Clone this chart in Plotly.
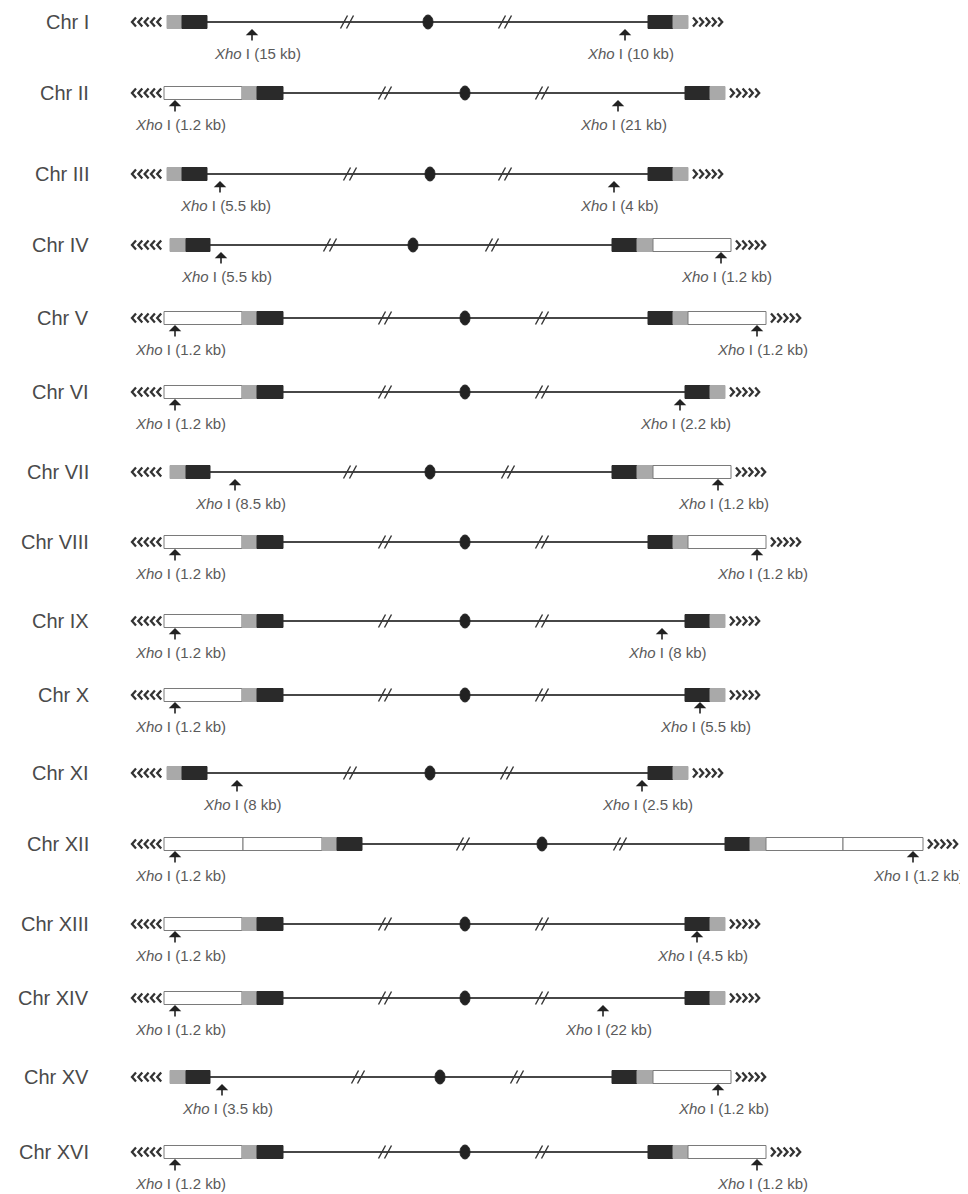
import plotly.graph_objects as go

# ---------------- data ----------------
chrom_names = ["Chr I", "Chr II", "Chr III", "Chr IV", "Chr V", "Chr VI", "Chr VII", "Chr VIII",
               "Chr IX", "Chr X", "Chr XI", "Chr XII", "Chr XIII", "Chr XIV", "Chr XV", "Chr XVI"]
row_y = [22, 93, 174, 245, 318, 392, 472, 542, 621, 695, 773, 844, 924, 998, 1077, 1152]

# block layouts (kind, start, end): W = white element, G = gray element, D = dark element
layout_A_left = [("G", 167, 182), ("D", 182, 207)]
layout_A_right = [("D", 648, 673), ("G", 673, 688)]
layout_B_left = [("W", 164, 242), ("G", 242, 257), ("D", 257, 283)]
layout_B_right = [("D", 685, 710), ("G", 710, 725)]
layout_C_left = [("G", 170, 186), ("D", 186, 210)]
layout_C_right = [("D", 612, 637), ("G", 637, 653), ("W", 653, 731)]
layout_D_right = [("D", 648, 673), ("G", 673, 688), ("W", 688, 766)]
layout_XII_left = [("W", 164, 243), ("W", 243, 322), ("G", 322, 337), ("D", 337, 362)]
layout_XII_right = [("D", 725, 750), ("G", 750, 766), ("W", 766, 843), ("W", 843, 923)]

left_blocks = [layout_A_left, layout_B_left, layout_A_left, layout_C_left, layout_B_left,
               layout_B_left, layout_C_left, layout_B_left, layout_B_left, layout_B_left,
               layout_A_left, layout_XII_left, layout_B_left, layout_B_left, layout_C_left,
               layout_B_left]
right_blocks = [layout_A_right, layout_B_right, layout_A_right, layout_C_right, layout_D_right,
                layout_B_right, layout_C_right, layout_D_right, layout_B_right, layout_B_right,
                layout_A_right, layout_XII_right, layout_B_right, layout_B_right, layout_C_right,
                layout_D_right]

break_x = [[347, 505], [385, 542], [350, 505], [330, 492], [385, 542], [385, 542], [350, 508],
           [385, 542], [385, 542], [385, 542], [350, 507], [463, 620], [385, 542], [385, 542],
           [358, 517], [385, 542]]
centromere_x = [428, 465, 430, 413, 465, 465, 430, 465, 465, 465, 430, 542, 465, 465, 440, 465]
left_telomere_start = 132

xho_x = [[252, 625], [175, 618], [220, 614], [221, 721], [175, 757], [175, 680], [235, 718],
         [175, 757], [175, 662], [175, 700], [237, 642], [175, 913], [175, 697], [175, 603],
         [222, 718], [175, 757]]
xho_kb = [["15", "10"], ["1.2", "21"], ["5.5", "4"], ["5.5", "1.2"], ["1.2", "1.2"],
          ["1.2", "2.2"], ["8.5", "1.2"], ["1.2", "1.2"], ["1.2", "8"], ["1.2", "5.5"],
          ["8", "2.5"], ["1.2", "1.2"], ["1.2", "4.5"], ["1.2", "22"], ["3.5", "1.2"],
          ["1.2", "1.2"]]

# ---------------- styles ----------------
FILL = {"W": "#ffffff", "G": "#a9a9a9", "D": "#2a2a2a"}
EDGE = {"W": "#7a7a7a", "G": "#a9a9a9", "D": "#2a2a2a"}
LINE_COL = "#474747"
BOX_H = 6.5
FONT = "Liberation Sans, Arial, sans-serif"
PAGE_OFFSET = 8  # default body margin of the html page

shapes = []
annotations = []

def chevrons(x_start, y, n, direction):
    for i in range(n):
        x = x_start + i * 6.3
        if direction == "left":
            path = f"M {x+4},{y-4.5} L {x},{y} L {x+4},{y+4.5}"
        else:
            path = f"M {x},{y-4.5} L {x+4},{y} L {x},{y+4.5}"
        shapes.append(dict(type="path", path=path, xref="x", yref="y",
                           line=dict(color="#333333", width=2.3)))

for i, name in enumerate(chrom_names):
    y = row_y[i]
    lb = left_blocks[i]
    rb = right_blocks[i]
    line_start = lb[-1][2]
    line_end = rb[0][1]
    shapes.append(dict(type="line", xref="x", yref="y", x0=line_start, x1=line_end, y0=y, y1=y,
                       line=dict(color=LINE_COL, width=1.8)))
    for kind, x0, x1 in lb + rb:
        shapes.append(dict(type="rect", xref="x", yref="y", x0=x0, x1=x1, y0=y - BOX_H, y1=y + BOX_H,
                           fillcolor=FILL[kind], line=dict(color=EDGE[kind], width=1)))
    chevrons(left_telomere_start, y, 5, "left")
    chevrons(rb[-1][2] + 5, y, 5, "right")
    for bx in break_x[i]:
        for dx in (-3, 3):
            shapes.append(dict(type="line", xref="x", yref="y", x0=bx + dx - 3.5, x1=bx + dx + 3.5,
                               y0=y + 6.5, y1=y - 6.5, line=dict(color="#333333", width=1.4)))
    cx = centromere_x[i]
    shapes.append(dict(type="circle", xref="x", yref="y", x0=cx - 5, x1=cx + 5, y0=y - 7, y1=y + 7,
                       fillcolor="#222222", line=dict(color="#222222", width=1)))
    annotations.append(dict(x=91, y=y, xref="x", yref="y", text=name, showarrow=False,
                            xanchor="right", yanchor="middle",
                            font=dict(family=FONT, size=20, color="#4a4a4a")))
    for xx, kb in zip(xho_x[i], xho_kb[i]):
        annotations.append(dict(x=xx, y=y + 7, xref="x", yref="y", ax=0, ay=13, text="",
                                showarrow=True, arrowhead=1, arrowsize=1.3, arrowwidth=1.6,
                                arrowcolor="#222222"))
        annotations.append(dict(x=xx + 5, y=y + 31, xref="x", yref="y",
                                text=f"<i>Xho</i> I ({kb} kb)", showarrow=False,
                                xanchor="center", yanchor="middle",
                                font=dict(family=FONT, size=15, color="#5a5a5a")))

W, H = 968, 1194
fig = go.Figure()
fig.add_trace(go.Scatter(x=[None], y=[None], showlegend=False, hoverinfo="skip"))
fig.update_layout(
    width=W - PAGE_OFFSET, height=H - PAGE_OFFSET,
    margin=dict(l=0, r=0, t=0, b=0),
    paper_bgcolor="white", plot_bgcolor="white",
    xaxis=dict(range=[PAGE_OFFSET, W], visible=False, fixedrange=True),
    yaxis=dict(range=[H, PAGE_OFFSET], visible=False, fixedrange=True),
    shapes=shapes, annotations=annotations, showlegend=False,
)
fig.write_html("out.html")
